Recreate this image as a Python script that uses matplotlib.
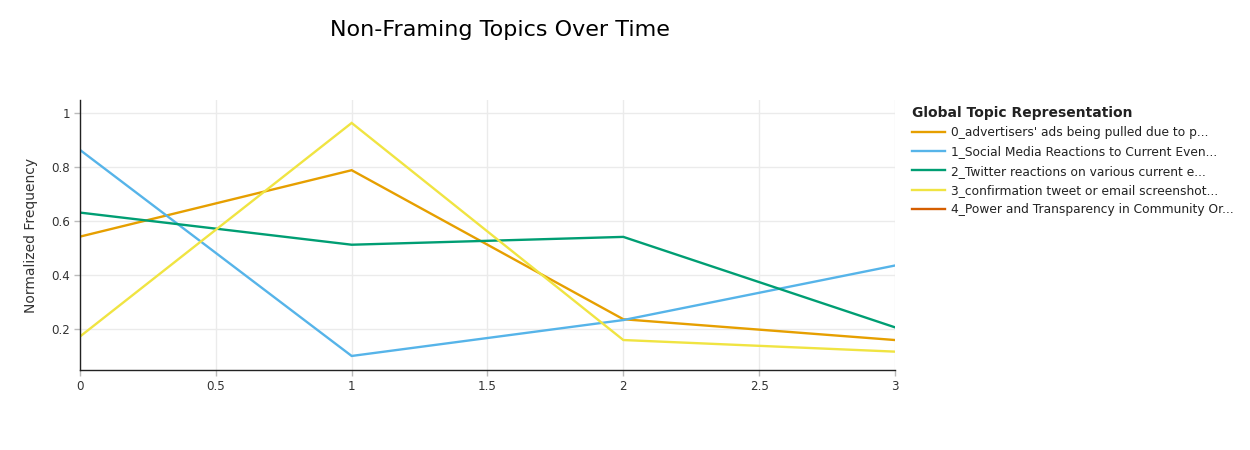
import matplotlib
matplotlib.use("Agg")
import matplotlib.pyplot as plt

plt.rcParams['font.family'] = ['DejaVu Sans']

x_values = [0, 1, 2, 3]
topic_names = [
    "0_advertisers' ads being pulled due to p...",
    "1_Social Media Reactions to Current Even...",
    "2_Twitter reactions on various current e...",
    "3_confirmation tweet or email screenshot...",
    "4_Power and Transparency in Community Or...",
]
topic0 = [0.543, 0.789, 0.237, 0.160]
topic1 = [0.864, 0.101, 0.234, 0.436]
topic2 = [0.632, 0.513, 0.542, 0.207]
topic3 = [0.173, 0.964, 0.160, 0.117]
topic4 = []  # no values shown for this topic
colors = ["#E69F00", "#56B4E9", "#009E73", "#F0E442", "#D55E00"]

series = [topic0, topic1, topic2, topic3, topic4]

fig = plt.figure(figsize=(12.5, 4.5), dpi=100)
ax = fig.add_axes([80/1250, 80/450, 815/1250, 270/450])

for name, vals, c in zip(topic_names, series, colors):
    xs = x_values[:len(vals)]
    ax.plot(xs, vals, color=c, lw=1.7, label=name, solid_joinstyle='miter')

ax.set_xlim(0, 3)
ax.set_ylim(0.049, 1.049)
ax.set_xticks([0, 0.5, 1, 1.5, 2, 2.5, 3])
ax.set_xticklabels(['0', '0.5', '1', '1.5', '2', '2.5', '3'])
ax.set_yticks([0.2, 0.4, 0.6, 0.8, 1])
ax.set_yticklabels(['0.2', '0.4', '0.6', '0.8', '1'])
ax.grid(True, color='#ebebeb', lw=1)
ax.set_axisbelow(True)
for s in ['top', 'right']:
    ax.spines[s].set_visible(False)
for s in ['left', 'bottom']:
    ax.spines[s].set_color('#222222')
    ax.spines[s].set_linewidth(1)
ax.tick_params(axis='both', colors='#bbbbbb', labelcolor='#333333', labelsize=8.6, length=4, width=1, pad=3)
ax.set_ylabel('Normalized Frequency', fontsize=10, color='#333333', labelpad=10)

fig.text(500/1250, 1 - 30/450, 'Non-Framing Topics Over Time', ha='center', va='center',
         fontsize=16, color='black')

leg = ax.legend(loc='upper left', bbox_to_anchor=(1.015, 0.997), frameon=False,
                fontsize=8.8, title='Global Topic Representation', handlelength=2.7,
                handletextpad=0.5, labelspacing=0.52, borderaxespad=0)
leg.get_title().set_fontweight('bold')
leg.get_title().set_fontsize(10)
leg.get_title().set_color('#222222')
leg._legend_box.align = 'left'
for t in leg.get_texts():
    t.set_color('#222222')

fig.savefig('out.png', dpi=100)
